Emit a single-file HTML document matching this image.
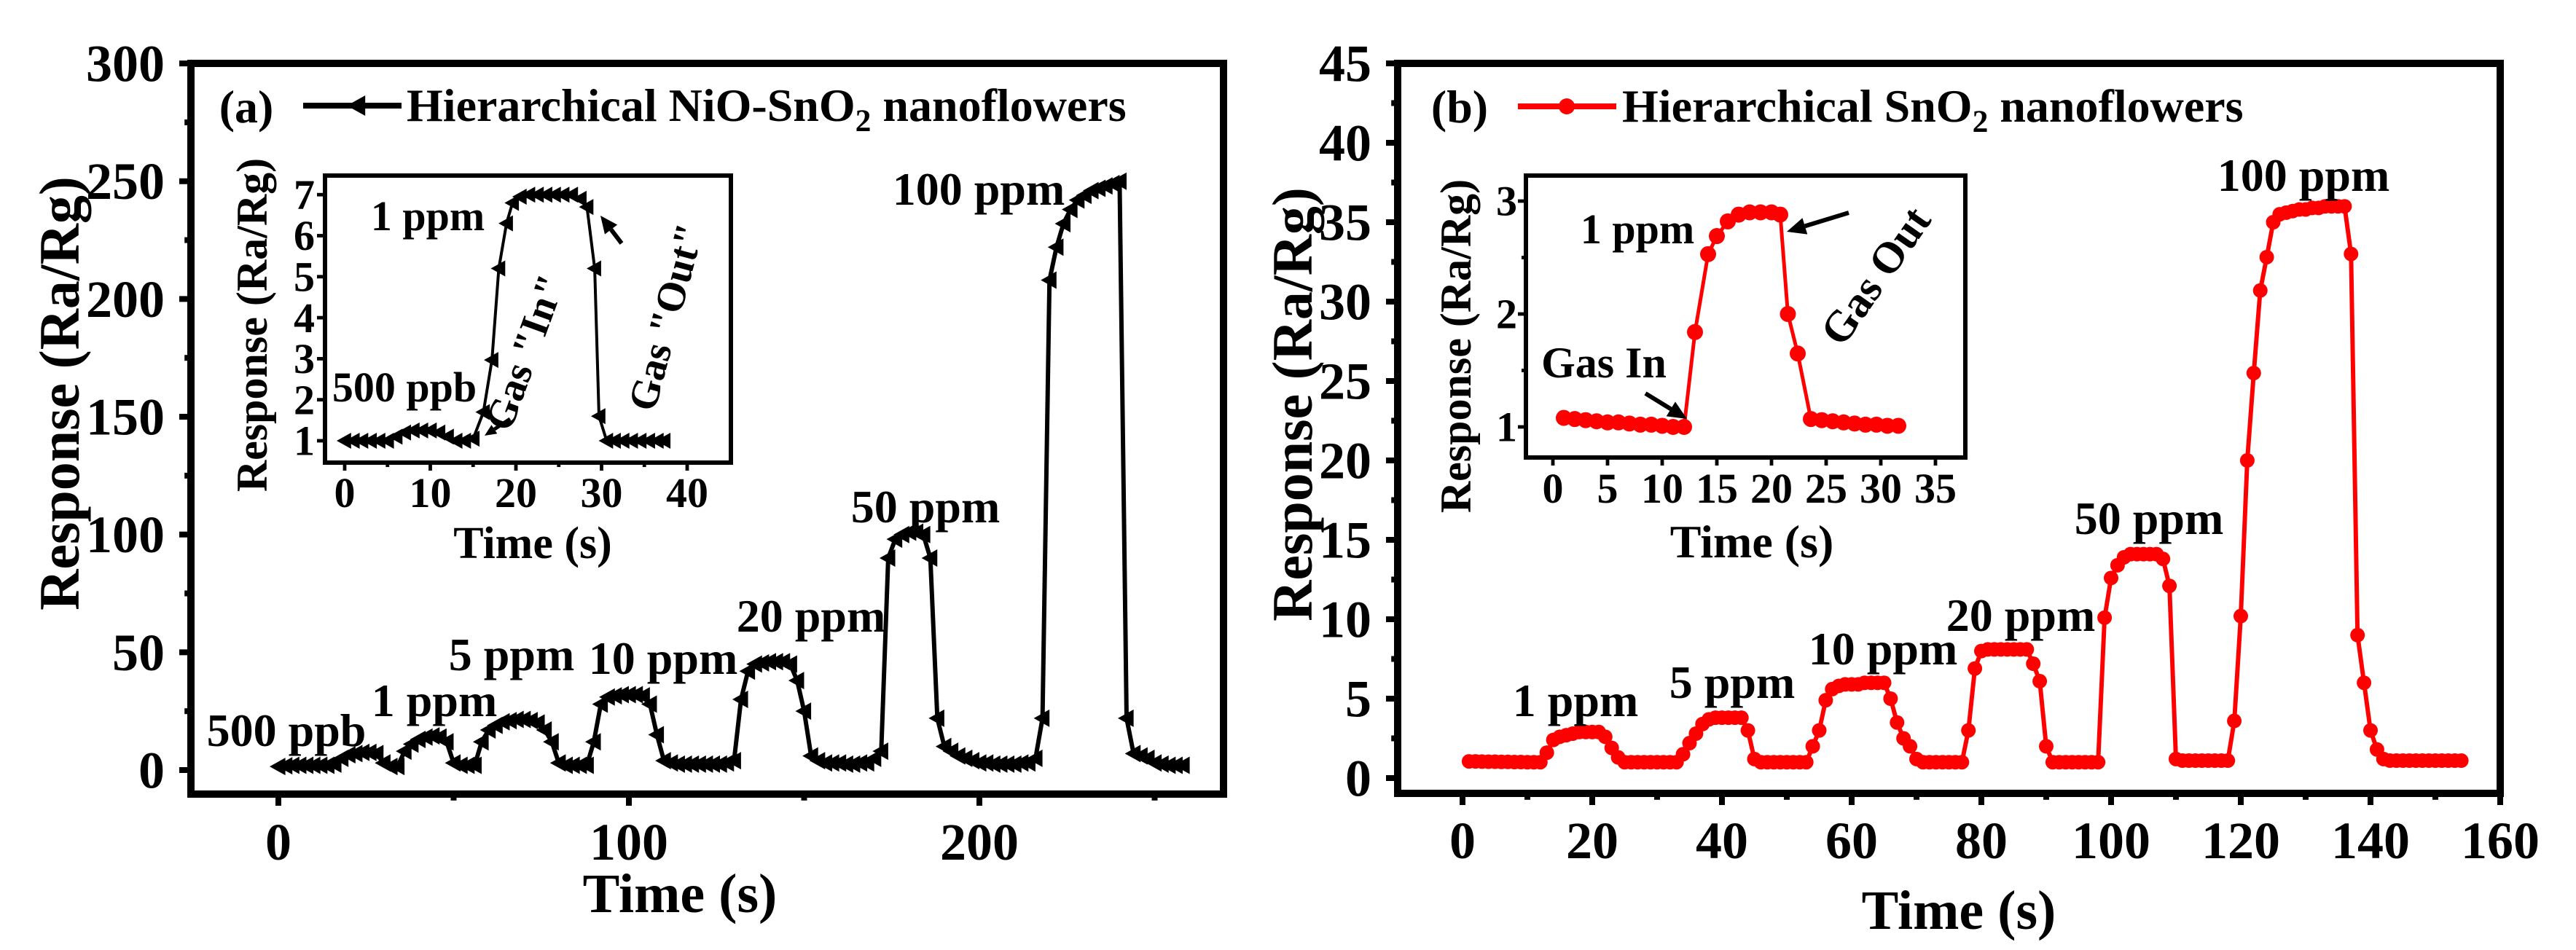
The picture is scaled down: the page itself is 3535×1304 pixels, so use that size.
<!DOCTYPE html>
<html><head><meta charset="utf-8"><style>
html,body{margin:0;padding:0;background:#fff;}
svg{display:block;font-family:"Liberation Serif",serif;font-weight:bold;}
</style></head><body>
<svg id="fig" width="3535" height="1304" viewBox="0 0 3535 1304" xmlns="http://www.w3.org/2000/svg">
<rect width="3535" height="1304" fill="#fff"/>
<g id="gA"></g>
<g id="gB"></g>
</svg>
<script>
// Panel (a) main data
const aTimes=[0,2,4,6,8,10,12,14,16,18,20,22,24,26,28,30,32,34,36,38,40,42,44,46,48,50,52,54,56,58,60,62,64,66,68,70,72,74,76,78,80,82,84,86,88,90,92,94,96,98,100,102,104,106,108,110,112,114,116,118,120,122,124,126,128,130,132,134,136,138,140,142,144,146,148,150,152,154,156,158,160,162,164,166,168,170,172,174,176,178,180,182,184,186,188,190,192,194,196,198,200,202,204,206,208,210,212,214,216,218,220,222,224,226,228,230,232,234,236,238,240,242,244,246,248,250,252,254,256,258];
const aValues=[1.5,1.8,2,2,2,2,2,2,2.5,5,6.5,7,7.5,7.5,7,3,1.5,1.5,8,11,13,14,14.5,14,12,3,2,2,2,12,17,19,20.5,21,21.5,21.5,21,20,17,12,3,2,2,2,2,12,28,31,31.5,32,32,32,31.5,28,15,4,3,2.5,2.5,2.5,2.5,2.5,2.5,2.5,3,4,30,42,45,45.5,46,46,46,45,38,25,6,4,3,3,3,2.5,2.5,3,3,5,8,90,98,100,101,101,100,90,22,10,8,6,5,4,3,3,2.5,2.5,2.5,2.5,3,3,5,22,208,222,232,238,242,244,246,247,248,249,250,22,7,6,5,3,2.5,2,2,2];
const aXTicks=[0,100,200];
const aYTicks=[0,50,100,150,200,250,300];
// Panel (a) inset
const aiTimes=[0,1,2,3,4,5,6,7,8,9,10,11,12,13,14,15,16.2,17.2,18,18.9,19.6,20.5,21.5,22.5,23.5,24.5,25.5,26.5,27.5,28.3,29.2,29.7,30.6,31.5,32.5,33.5,34.5,35.5,36.5,37.3];
const aiValues=[1,1,1,1,1,1,1.1,1.2,1.25,1.25,1.25,1.2,1.1,1,1,1.05,1.7,2.97,5.2,6.3,6.8,6.95,7,7,7,7,7,7,6.9,6.7,5.2,1.6,1,1,1,1,1,1,1,1];
const aiXTicks=[0,10,20,30,40];
const aiYTicks=[1,2,3,4,5,6,7];
// Panel (b) main data
const bTimes=[];const bValues=[1.05,1.05,1.04,1.03,1.03,1.02,1.02,1.01,1.01,1,1,1,1.6,2.4,2.6,2.7,2.8,2.9,2.9,2.9,2.9,2.6,1.9,1.3,1,1,1,1,1,1,1,1,1,1.5,2.2,2.8,3.4,3.7,3.8,3.8,3.8,3.8,3.8,3,1.2,1,1,1,1,1,1,1,1,2,3,4.9,5.6,5.8,5.9,5.9,5.9,6,6,6,6,5,3.5,2.5,2,1.2,1,1,1,1,1,1,1,3,6.9,8,8.1,8.1,8.1,8.1,8.1,8.1,8.1,7.2,6.1,2,1,1,1,1,1,1,1,1,10.1,12.6,13.4,13.9,14.1,14.1,14.1,14.1,14.1,13.8,12.1,1.2,1.1,1.1,1.1,1.1,1.1,1.1,1.1,1.1,3.6,10.2,20,25.5,30.7,32.8,35,35.5,35.6,35.7,35.8,35.8,35.9,35.9,36,36,36,36,33,9,6,3,1.8,1.2,1.1,1.1,1.1,1.1,1.1,1.1,1.1,1.1,1.1,1.1,1.1,1.1];
for(let i=0;i<bValues.length;i++)bTimes.push(i+1);
const bXTicks=[0,20,40,60,80,100,120,140,160];
const bYTicks=[0,5,10,15,20,25,30,35,40,45];
// Panel (b) inset
const biTimes=[1,2,3,4,5,6,7,8,9,10,11,12,13,14.2,15,16,17,18,19,20,20.8,21.5,22.4,23.6,24.6,25.6,26.6,27.6,28.6,29.6,30.6,31.6];
const biValues=[1.08,1.07,1.06,1.05,1.04,1.04,1.03,1.02,1.02,1.01,1,1,1.84,2.53,2.69,2.82,2.88,2.9,2.9,2.9,2.88,2.0,1.65,1.07,1.06,1.05,1.04,1.03,1.02,1.02,1.01,1.01];
const biXTicks=[0,5,10,15,20,25,30,35];
const biYTicks=[1,2,3];

const NS="http://www.w3.org/2000/svg";
function mk(parent,tag,attrs,text){const e=document.createElementNS(NS,tag);for(const k in attrs)e.setAttribute(k,attrs[k]);if(text!==undefined)e.textContent=text;parent.appendChild(e);return e;}

function axes(g,cfg){
  const {x0,x1,y0,y1,sx,sy,xt,yt,xminor,yminor,sw,tl,fs,xlabY,ylabGap}=cfg;
  xt.forEach(v=>{const X=sx(v);
    const t=mk(g,'line',{x1:X,x2:X,y1:y1,y2:y1+tl,stroke:'#000','stroke-width':sw*0.8});
    
    
    const l=mk(g,'text',{x:X,y:xlabY,'text-anchor':'middle','font-size':fs},String(v));
    
    
  });
  xminor.forEach(v=>{const X=sx(v);if(X<x0||X>x1)return;
    const t=mk(g,'line',{x1:X,x2:X,y1:y1,y2:y1+tl*0.55,stroke:'#000','stroke-width':sw*0.8});
    
    
  });
  yt.forEach(v=>{const Y=sy(v);
    const t=mk(g,'line',{x1:x0,x2:x0-tl,y1:Y,y2:Y,stroke:'#000','stroke-width':sw*0.8});
    
    
    const l=mk(g,'text',{x:x0-ylabGap,y:Y+fs*0.34,'text-anchor':'end','font-size':fs},String(v));
    
    
  });
  yminor.forEach(v=>{const Y=sy(v);if(Y<y0||Y>y1)return;
    const t=mk(g,'line',{x1:x0,x2:x0-tl*0.55,y1:Y,y2:Y,stroke:'#000','stroke-width':sw*0.8});
    
    
  });
  const r=mk(g,'rect',{x:x0,y:y0,width:x1-x0,height:y1-y0,fill:'none',stroke:'#000','stroke-width':sw});
  
  
}
function txt(g,name,x,y,fs,s,rot,anchor){
  const a={x:x,y:y,'font-size':fs,'text-anchor':anchor||'middle'};
  if(rot)a.transform=`rotate(${rot} ${x} ${y})`;
  const t=mk(g,'text',a,s);
  
  
  return t;
}
function legendText(g,x,y,fs,pre,post){
  const t=mk(g,'text',{x:x,y:y,'font-size':fs,'text-anchor':'start'});
  
  
  mk(t,'tspan',{},pre);
  mk(t,'tspan',{dy:14,'font-size':fs*0.68},'2');
  mk(t,'tspan',{dy:-14},' '+post);
}
function tri(g,x,y,s,name){const p=mk(g,'polygon',{points:`${x-s},${y} ${x+s*0.8},${y-s} ${x+s*0.8},${y+s}`,fill:'#000'});
  
  }
function circ(g,x,y,r,name){const c=mk(g,'circle',{cx:x,cy:y,r:r,fill:'#ff0000'});
  
  }
function series(g,name,ts,vs,sx,sy,color,w){
  const d=ts.map((t,i)=>(i?'L':'M')+sx(t).toFixed(1)+','+sy(vs[i]).toFixed(1)).join('');
  const p=mk(g,'path',{d:d,fill:'none',stroke:color,'stroke-width':w,'stroke-linejoin':'round'});
  
  
}
function arrow(g,name,x1,y1,x2,y2,color,w,h){
  const ang=Math.atan2(y2-y1,x2-x1);
  const bx=x2-h*Math.cos(ang),by=y2-h*Math.sin(ang);
  const px=-Math.sin(ang)*h*0.45,py=Math.cos(ang)*h*0.45;
  const ln=mk(g,'line',{x1:x1,y1:y1,x2:bx,y2:by,stroke:color,'stroke-width':w});
  
  
  const hd=mk(g,'polygon',{points:`${x2},${y2} ${bx+px},${by+py} ${bx-px},${by-py}`,fill:color});
  
  
}

// ---------- Panel A ----------
const gA=document.getElementById('gA');
const ax=t=>382+t*4.81, ay=v=>1057-v*3.233;
axes(gA,{x0:262,x1:1679,y0:87,y1:1090,sx:ax,sy:ay,xt:aXTicks,yt:aYTicks,xminor:[-50,50,150,250],yminor:[25,75,125,175,225,275],sw:10,tl:16,fs:72,xlabY:1180,ylabGap:36});
txt(gA,'x-axis-title',933,1252,76,'Time (s)');
txt(gA,'y-axis-title',108,540,78,'Response (Ra/Rg)',-90);
series(gA,'nio-sno2-line',aTimes,aValues,ax,ay,'#000',6);
aTimes.forEach((t,i)=>tri(gA,ax(t),ay(aValues[i]),12,'nio-sno2-point'));
txt(gA,'panel-label-a',338,168,64,'(a)');
{const l=mk(gA,'line',{x1:416,y1:145,x2:551,y2:145,stroke:'#000','stroke-width':8});

}
tri(gA,490,145,14,'legend-marker');
legendText(gA,558,166,64,'Hierarchical NiO-SnO','nanoflowers');
[['500 ppb',393,1024],['1 ppm',596,983],['5 ppm',702,920],['10 ppm',910,925],['20 ppm',1113,867],['50 ppm',1270,717],['100 ppm',1343,281]].forEach(a=>txt(gA,'annotation-'+a[0].replace(' ','-'),a[1],a[2],64,a[0]));
// inset A
const gAi=mk(gA,'g',{});


const aix=t=>473+t*11.75, aiy=v=>605-(v-1)*56.3;
mk(gAi,'rect',{x:446,y:241,width:557,height:394,fill:'#fff'});
axes(gAi,{x0:446,x1:1003,y0:241,y1:635,sx:aix,sy:aiy,xt:aiXTicks,yt:aiYTicks,xminor:[5,15,25,35],yminor:[],sw:6,tl:11,fs:58,xlabY:696,ylabGap:14});
txt(gAi,'inset-x-axis-title',731,766,62,'Time (s)');
txt(gAi,'inset-y-axis-title',366,446,60,'Response (Ra/Rg)',-90);
series(gAi,'inset-nio-sno2-line',aiTimes,aiValues,aix,aiy,'#000',4);
aiTimes.forEach((t,i)=>tri(gAi,aix(t),aiy(aiValues[i]),11,'inset-nio-sno2-point'));
txt(gAi,'inset-annotation-1ppm',587,316,58,'1 ppm');
txt(gAi,'inset-annotation-500ppb',555,551,58,'500 ppb');
txt(gAi,'gas-in-label',738,490,56,'Gas "In"',-70);
txt(gAi,'gas-out-label',932,440,56,'Gas "Out"',-75);
arrow(gAi,'gas-out-arrow',853,334,824,296,'#000',6,24);
arrow(gAi,'gas-in-arrow',700,575,665,598,'#000',5,16);

// ---------- Panel B ----------
const gB=document.getElementById('gB');
const bx=t=>2007+t*8.9, by=v=>1068-v*21.8;
axes(gB,{x0:1918,x1:3431,y0:87,y1:1089,sx:bx,sy:by,xt:bXTicks,yt:bYTicks,xminor:[10,30,50,70,90,110,130,150],yminor:[2.5,7.5,12.5,17.5,22.5,27.5,32.5,37.5,42.5],sw:10,tl:16,fs:72,xlabY:1178,ylabGap:36});
txt(gB,'x-axis-title',2688,1275,76,'Time (s)');
txt(gB,'y-axis-title',1800,555,78,'Response (Ra/Rg)',-90);
series(gB,'sno2-line',bTimes,bValues,bx,by,'#ff0000',6);
bTimes.forEach((t,i)=>circ(gB,bx(t),by(bValues[i]),10,'sno2-point'));
txt(gB,'panel-label-b',2003,168,64,'(b)');
{const l=mk(gB,'line',{x1:2083,y1:146,x2:2218,y2:146,stroke:'#ff0000','stroke-width':8});

}
circ(gB,2150,146,11,'legend-marker');
legendText(gB,2226,167,64,'Hierarchical SnO','nanoflowers');
[['1 ppm',2162,983],['5 ppm',2377,958],['10 ppm',2584,912],['20 ppm',2773,866],['50 ppm',2949,733],['100 ppm',3161,262]].forEach(a=>txt(gB,'annotation-'+a[0].replace(' ','-'),a[1],a[2],64,a[0]));
// inset B
const gBi=mk(gB,'g',{});


const bix=t=>2131+t*15.0, biy=v=>586-(v-1)*155;
mk(gBi,'rect',{x:2094,y:241,width:603,height:387,fill:'#fff'});
axes(gBi,{x0:2094,x1:2697,y0:241,y1:628,sx:bix,sy:biy,xt:biXTicks,yt:biYTicks,xminor:[],yminor:[1.5,2.5],sw:6,tl:11,fs:58,xlabY:690,ylabGap:12});
txt(gBi,'inset-x-axis-title',2404,765,64,'Time (s)');
txt(gBi,'inset-y-axis-title',2018,475,60,'Response (Ra/Rg)',-90);
series(gBi,'inset-sno2-line',biTimes,biValues,bix,biy,'#ff0000',5);
biTimes.forEach((t,i)=>circ(gBi,bix(t),biy(biValues[i]),11,'inset-sno2-point'));
txt(gBi,'inset-annotation-1ppm',2247,334,58,'1 ppm');
txt(gBi,'gas-in-label',2201,518,60,'Gas In');
txt(gBi,'gas-out-label',2590,390,60,'Gas Out',-55);
arrow(gBi,'gas-out-arrow',2537,292,2452,318,'#000',6,26);
arrow(gBi,'gas-in-arrow',2258,540,2315,575,'#000',6,26);
</script>
</body></html>
